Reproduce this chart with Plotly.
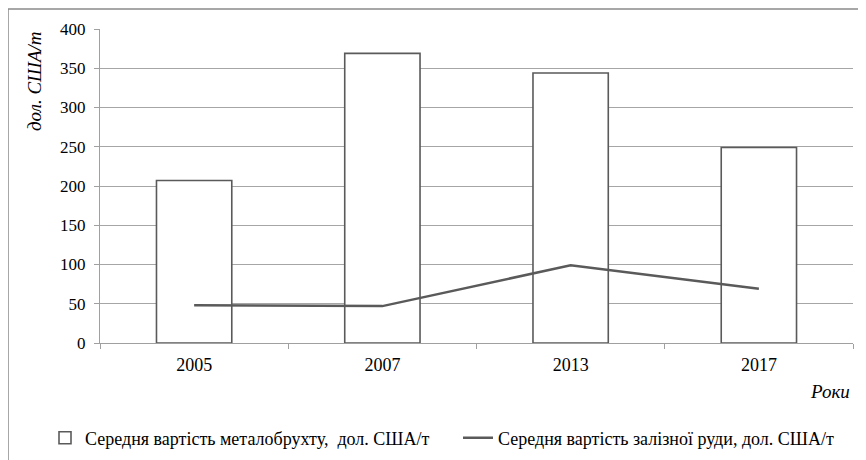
import plotly.graph_objects as go

years = ["2005", "2007", "2013", "2017"]
scrap_price = [207, 369, 344, 249]
ore_price = [48, 47, 99, 69]
scrap_name = "Середня вартість металобрухту,  дол. США/т"
ore_name = "Середня вартість залізної руди, дол. США/т"
y_ticks = [0, 50, 100, 150, 200, 250, 300, 350, 400]

FONT = "Liberation Serif"
W, H = 866, 460
OFF = 8  # page body margin
# plot area in window pixels: x 100..853, y 29..343
L = 100 - OFF
T = 29 - OFF
R = W - (853 - OFF)
B = H - (343 - OFF)
pw, ph = W - L - R, H - T - B

def px_x(px):
    return (px - OFF - L) / pw

def px_y(py):
    return (H - B - (py - OFF)) / ph

fig = go.Figure()
fig.add_trace(go.Bar(
    x=years, y=scrap_price, name=scrap_name,
    marker=dict(color="white", line=dict(color="#5a5a5a", width=1.6)),
    width=0.4, legend="legend",
))
fig.add_trace(go.Scatter(
    x=years, y=ore_price, name=ore_name, mode="lines",
    line=dict(color="#5a5a5a", width=2.5), legend="legend2",
))

leg_font = dict(family=FONT, size=18, color="#000")
fig.update_layout(
    width=W, height=H,
    margin=dict(l=L, r=R, t=T, b=B, autoexpand=False),
    plot_bgcolor="white", paper_bgcolor="white",
    font=dict(family=FONT, size=18, color="#000000"),
    showlegend=True,
    legend=dict(
        orientation="h", x=px_x(45), y=px_y(438), xanchor="left", yanchor="middle",
        font=leg_font, bgcolor="rgba(0,0,0,0)", itemwidth=30,
    ),
    legend2=dict(
        orientation="h", x=px_x(458), y=px_y(438), xanchor="left", yanchor="middle",
        font=leg_font, bgcolor="rgba(0,0,0,0)", itemwidth=30,
    ),
    xaxis=dict(
        type="category", showgrid=False, showline=True, linecolor="#a0a0a0", linewidth=1,
        ticks="outside", tickson="boundaries", ticklen=5, tickcolor="#a0a0a0",
        tickfont=dict(family=FONT, size=18, color="#000"), ticklabelstandoff=5,
        range=[-0.5, 3.5],
    ),
    yaxis=dict(
        range=[0, 400], tickvals=y_ticks, showgrid=True, gridcolor="#a6a6a6", gridwidth=1,
        showline=True, linecolor="#a0a0a0", linewidth=1, zeroline=False,
        ticks="outside", ticklen=5, tickcolor="#a0a0a0",
        tickfont=dict(family=FONT, size=17, color="#000"), ticklabelstandoff=5,
    ),
    annotations=[
        dict(text="<i>дол. США/т</i>", textangle=-90, x=px_x(34), y=1.0,
             xref="paper", yref="paper", xanchor="center", yanchor="top",
             showarrow=False, font=dict(family=FONT, size=19, color="#000")),
        dict(text="<i>Роки</i>", x=px_x(830), y=px_y(391), xref="paper", yref="paper",
             xanchor="center", yanchor="middle", showarrow=False,
             font=dict(family=FONT, size=19, color="#000")),
    ],
    shapes=[
        dict(type="line", xref="paper", yref="paper", x0=px_x(8), x1=px_x(880),
             y0=px_y(9), y1=px_y(9), line=dict(color="#8a8a8a", width=1.5)),
        dict(type="line", xref="paper", yref="paper", x0=px_x(8), x1=px_x(8),
             y0=px_y(9), y1=px_y(480), line=dict(color="#8a8a8a", width=1.5)),
    ],
)

fig.write_html("out.html")
